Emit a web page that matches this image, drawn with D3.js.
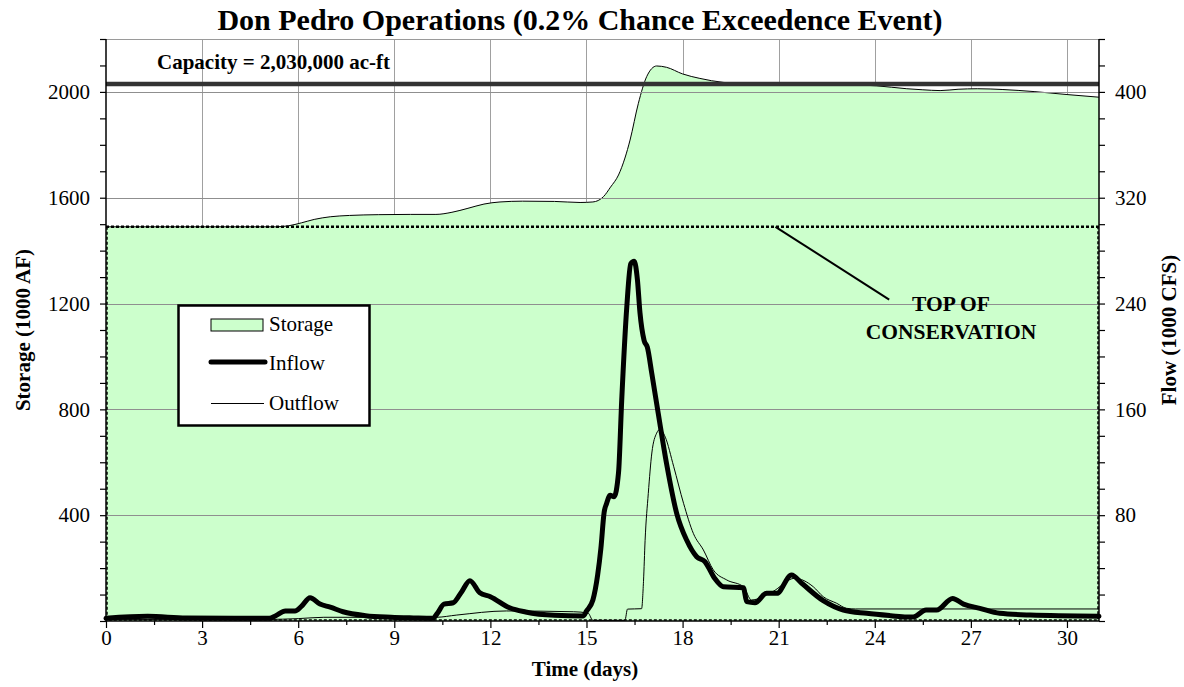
<!DOCTYPE html>
<html>
<head>
<meta charset="utf-8">
<script src="https://cdn.jsdelivr.net/npm/d3@7"></script>
<style>
  body { margin: 0; background: #fff; }
  svg text { font-family: "Liberation Serif", "Times New Roman", serif; fill: #000; }
</style>
</head>
<body>
<svg id="chart" width="1184" height="687"></svg>
<script>
// ---------------- data ----------------
const titleText = "Don Pedro Operations (0.2% Chance Exceedence Event)";
const capacityValue = 2030;          // 1000 AF
const capacityLabel = "Capacity = 2,030,000 ac-ft";
const topOfConservation = 1490;      // 1000 AF

const storageDays = [0, 5.3, 5.7, 6.1, 6.5, 7.0, 7.6, 8.5, 9.5, 10.3, 10.8, 11.3, 11.8, 12.3, 13.0, 14.0, 14.8, 15.2, 15.53, 15.75, 16.0, 16.2, 16.36, 16.62, 16.88, 17.19, 17.5, 18.0, 18.54, 19.27, 20.0, 21, 22, 23, 24.06, 25.0, 25.5, 26.04, 26.6, 27.2, 28, 29, 30, 31];
const storageVals = [1490, 1490, 1494, 1505, 1518, 1528, 1533, 1536, 1537, 1537, 1545, 1560, 1576, 1584, 1587, 1586, 1582, 1584, 1604, 1640, 1686, 1750, 1818, 1957, 2058, 2098, 2093, 2068, 2051, 2036, 2031, 2030, 2030, 2028, 2023, 2012, 2008, 2005, 2010, 2012, 2009, 2001, 1990, 1980];

const inflowDays = [0, 1.3, 2.5, 4, 5.1, 5.3, 5.6, 5.9, 6.1, 6.37, 6.68, 7.0, 7.4, 8.1, 8.9, 9.6, 10.2, 10.35, 10.55, 10.84, 11.1, 11.36, 11.67, 12.0, 12.6, 13.1, 14.0, 14.9, 15.0, 15.2, 15.35, 15.45, 15.55, 15.63, 15.74, 15.86, 16.0, 16.1, 16.26, 16.38, 16.49, 16.59, 16.67, 16.8, 16.9, 17.04, 17.24, 17.5, 17.82, 18.13, 18.44, 18.7, 19.0, 19.27, 19.9, 20.0, 20.26, 20.62, 20.94, 21.4, 21.72, 22.39, 23.02, 23.75, 24.5, 25.0, 25.2, 25.6, 25.93, 26.43, 26.77, 27.28, 27.9, 28.85, 31];
const inflowVals = [2, 3.5, 2.2, 2, 2, 4, 7.5, 7.5, 11, 17.6, 12.8, 10.5, 7, 4, 2.8, 2.3, 2, 6, 12.8, 13.8, 22, 30.5, 21.4, 18.4, 10, 6.8, 4.3, 3.8, 7.5, 15.9, 35, 55, 82, 89, 95, 94, 112, 167, 238, 270, 272, 258, 233, 212, 207, 187, 157, 119, 81, 61, 48.6, 44.8, 32.3, 25.9, 25.2, 14.6, 13.8, 20.9, 20.9, 34.8, 28.5, 15.4, 8.3, 5.8, 4, 3, 3, 8.3, 8.3, 17.1, 12.8, 9.6, 5.8, 4.5, 3.6];

const outflowDays = [0, 5, 6, 6.8, 10.3, 10.95, 12.5, 14.6, 15.05, 15.2, 16.2, 16.28, 16.72, 16.78, 16.83, 16.93, 17.04, 17.19, 17.3, 17.46, 17.72, 18.03, 18.34, 18.65, 18.96, 19.38, 19.9, 20.15, 20.8, 21.5, 22.08, 22.39, 22.81, 23.12, 23.4, 31];
const outflowVals = [1.2, 1.2, 1.8, 2.8, 2.8, 4.5, 7.6, 7, 6, 0.5, 0.5, 9, 9.3, 30, 61, 96.5, 127, 142, 145, 139, 117, 89, 66, 53.7, 38.6, 31, 25.9, 15.9, 22, 32.3, 25.9, 18.4, 13.4, 9.6, 9.1, 9.1];

const storageTicks = [400, 800, 1200, 1600, 2000];
const flowTicks = [80, 160, 240, 320, 400];
const dayTicks = [0, 3, 6, 9, 12, 15, 18, 21, 24, 27, 30];
const legendLabels = ["Storage", "Inflow", "Outflow"];

// ---------------- layout ----------------
const svg = d3.select("#chart");
const L = 106, R = 1099, T = 39, B = 621;
const green = "#CCFFCC";
const gridColor = "#8f8f8f";

const x = d3.scaleLinear().domain([0, 31]).range([L, R]);
const yS = d3.scaleLinear().domain([0, 2200]).range([B, T]);
const yF = d3.scaleLinear().domain([0, 440]).range([B, T]);

const storage = storageDays.map((d, i) => [d, storageVals[i]]);
const inflow = inflowDays.map((d, i) => [d, inflowVals[i]]);
const outflow = outflowDays.map((d, i) => [d, outflowVals[i]]);

// plot background
svg.append("rect").attr("x", L).attr("y", T).attr("width", R - L).attr("height", B - T).attr("fill", "#fff");

// vertical gridlines (behind the area)
svg.append("g").selectAll("line").data(dayTicks.filter(d => d > 0))
  .join("line")
  .attr("x1", d => Math.round(x(d)) + 0.5).attr("x2", d => Math.round(x(d)) + 0.5)
  .attr("y1", T).attr("y2", B)
  .attr("stroke", "#a0a0a0").attr("stroke-width", 1);

// top border
svg.append("line").attr("x1", L).attr("x2", R).attr("y1", T + 0.5).attr("y2", T + 0.5)
  .attr("stroke", "#9a9a9a").attr("stroke-width", 1);

// top of conservation pool fill
svg.append("rect").attr("x", x(0)).attr("y", yS(topOfConservation))
  .attr("width", x(31) - x(0)).attr("height", yS(0) - yS(topOfConservation))
  .attr("fill", green);

// storage area
const area = d3.area().x(d => x(d[0])).y0(yS(0)).y1(d => yS(d[1])).curve(d3.curveMonotoneX);
svg.append("path").datum(storage).attr("d", area).attr("fill", green);
const sLine = d3.line().x(d => x(d[0])).y(d => yS(d[1])).curve(d3.curveMonotoneX);
svg.append("path").datum(storage).attr("d", sLine).attr("fill", "none").attr("stroke", "#000").attr("stroke-width", 1);

// horizontal gridlines (on top of area)
svg.append("g").selectAll("line").data(storageTicks)
  .join("line")
  .attr("x1", L).attr("x2", R)
  .attr("y1", d => Math.round(yS(d)) + 0.5).attr("y2", d => Math.round(yS(d)) + 0.5)
  .attr("stroke", gridColor).attr("stroke-width", 1);

// top of conservation dashed outline
const tocY = yS(topOfConservation);
svg.append("line").attr("x1", L).attr("x2", R).attr("y1", tocY).attr("y2", tocY)
  .attr("stroke", "#000").attr("stroke-width", 2.5).attr("stroke-dasharray", "3,2");
svg.append("path")
  .attr("d", `M${L + 1},${tocY} V${B - 1} H${R - 1} V${tocY}`)
  .attr("fill", "none").attr("stroke", "#000").attr("stroke-width", 1.5).attr("stroke-dasharray", "3,2");

// capacity line
svg.append("line").attr("x1", L).attr("x2", R).attr("y1", yS(capacityValue)).attr("y2", yS(capacityValue))
  .attr("stroke", "#333").attr("stroke-width", 4.5);

// flows
const fLine = d3.line().x(d => x(d[0])).y(d => yF(d[1])).curve(d3.curveMonotoneX);
svg.append("path").datum(outflow).attr("d", fLine).attr("fill", "none")
  .attr("stroke", "#000").attr("stroke-width", 1);
svg.append("path").datum(inflow).attr("d", fLine).attr("fill", "none")
  .attr("stroke", "#000").attr("stroke-width", 5).attr("stroke-linejoin", "round").attr("stroke-linecap", "round");

// axes
const fs = 21;
const leftAxis = d3.axisLeft(yS).tickValues(d3.range(0, 2201, 100))
  .tickFormat(d => storageTicks.includes(d) ? d : "").tickSize(6).tickPadding(10);
const gL = svg.append("g").attr("transform", `translate(${L},0)`).call(leftAxis);

const rightAxis = d3.axisRight(yF).tickValues(d3.range(0, 441, 20))
  .tickFormat(d => flowTicks.includes(d) ? d : "").tickSize(6).tickPadding(10);
const gR = svg.append("g").attr("transform", `translate(${R},0)`).call(rightAxis);

const bottomAxis = d3.axisBottom(x).tickValues(d3.range(0, 31, 1.5))
  .tickFormat(d => dayTicks.includes(d) ? d : "").tickSize(6).tickPadding(3);
const gB = svg.append("g").attr("transform", `translate(0,${B})`).call(bottomAxis);
gB.selectAll(".tick line").attr("y2", d => dayTicks.includes(d) ? 7 : 4);

[gL, gR, gB].forEach(g => {
  g.select(".domain").attr("stroke", "#000").attr("stroke-width", 1.5);
  g.selectAll(".tick line").attr("stroke", "#000").attr("stroke-width", 1.2);
  g.selectAll(".tick text").attr("font-size", fs).attr("font-family", "Liberation Serif, Times New Roman, serif").attr("fill", "#000");
});
gL.select(".domain").attr("d", `M0,${T}V${B}`);
gR.select(".domain").attr("d", `M0,${T}V${B}`);
gB.select(".domain").attr("d", `M${L},0H${R}`);

// title
svg.append("text").attr("x", 580).attr("y", 30).attr("text-anchor", "middle")
  .attr("font-size", 30).attr("font-weight", "bold").text(titleText);

// capacity label
svg.append("text").attr("x", 157).attr("y", 69).attr("font-size", 21).attr("font-weight", "bold").text(capacityLabel);

// axis titles
svg.append("text").attr("transform", "translate(30,330) rotate(-90)").attr("text-anchor", "middle")
  .attr("font-size", 21).attr("font-weight", "bold").text("Storage (1000 AF)");
svg.append("text").attr("transform", "translate(1176,330) rotate(-90)").attr("text-anchor", "middle")
  .attr("font-size", 21).attr("font-weight", "bold").text("Flow (1000 CFS)");
svg.append("text").attr("x", 585).attr("y", 676).attr("text-anchor", "middle")
  .attr("font-size", 21).attr("font-weight", "bold").text("Time (days)");

// top of conservation annotation
svg.append("line").attr("x1", x(20.9)).attr("y1", tocY).attr("x2", x(24.45)).attr("y2", yS(1215))
  .attr("stroke", "#000").attr("stroke-width", 2);
svg.append("text").attr("x", 951).attr("y", 311).attr("text-anchor", "middle")
  .attr("font-size", 21.5).attr("font-weight", "bold").text("TOP OF");
svg.append("text").attr("x", 951).attr("y", 339).attr("text-anchor", "middle")
  .attr("font-size", 21.5).attr("font-weight", "bold").text("CONSERVATION");

// legend
const lg = svg.append("g");
lg.append("rect").attr("x", 178.5).attr("y", 305.5).attr("width", 191).attr("height", 120)
  .attr("fill", "#fff").attr("stroke", "#000").attr("stroke-width", 2.5);
lg.append("rect").attr("x", 211).attr("y", 319).attr("width", 52).attr("height", 12)
  .attr("fill", green).attr("stroke", "#000").attr("stroke-width", 1);
lg.append("line").attr("x1", 211).attr("x2", 265).attr("y1", 362).attr("y2", 362)
  .attr("stroke", "#000").attr("stroke-width", 5).attr("stroke-linecap", "round");
lg.append("line").attr("x1", 211).attr("x2", 264).attr("y1", 403.5).attr("y2", 403.5)
  .attr("stroke", "#000").attr("stroke-width", 1);
lg.selectAll("text.lab").data(legendLabels).join("text").attr("class", "lab")
  .attr("x", 269).attr("y", (d, i) => [331, 370, 410][i]).attr("font-size", 21).text(d => d);
</script>
</body>
</html>
